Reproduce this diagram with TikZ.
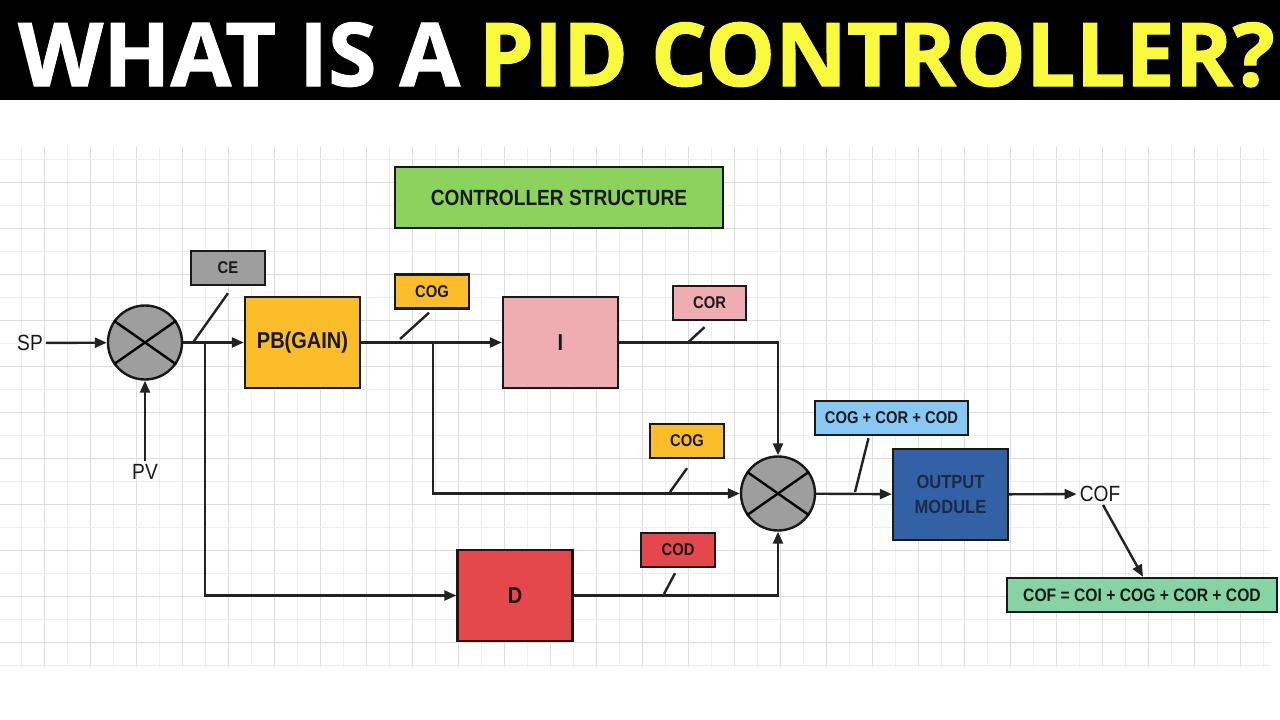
\documentclass[tikz,border=0pt]{standalone}
\usepackage{fontspec}
\setmainfont{Liberation Sans}
\newfontfamily\narrowfont[FakeStretch=0.87]{Liberation Sans}
\newfontfamily\titlefont[FakeBold=1.2]{Open Sans}
\usetikzlibrary{arrows.meta}
\definecolor{jgray}{HTML}{9E9E9E}
\definecolor{gainorange}{HTML}{FCBD2B}
\definecolor{intpink}{HTML}{EFADB1}
\definecolor{dervred}{HTML}{E5484C}
\definecolor{titlegreen}{HTML}{8CD35D}
\definecolor{sumblue}{HTML}{87C9F3}
\definecolor{outblue}{HTML}{3261A6}
\definecolor{mint}{HTML}{86D3A3}
\definecolor{hlyellow}{HTML}{FAFA3C}
\definecolor{gridmin}{HTML}{EEEEEE}
\definecolor{gridmaj}{HTML}{DDDDDD}
\definecolor{wirecol}{HTML}{222222}
\definecolor{navytext}{HTML}{1C2A44}

\begin{document}
\begin{tikzpicture}[x=1pt, y=-1pt, >={Triangle[length=12pt, width=10pt]}, line width=2.4pt,
  box/.style={draw=black!90, fill=#1, line width=2.4pt, text=black!90, inner sep=0pt,
    minimum width=115pt, minimum height=91pt, font=\narrowfont\bfseries\fontsize{23}{26}\selectfont},
  tag/.style={draw=black!90, fill=#1, line width=2.4pt, text=black!90, inner sep=0pt,
    minimum width=74pt, minimum height=34pt, font=\narrowfont\bfseries\fontsize{17}{20}\selectfont},
  sumjn/.style={circle, draw=black!90, fill=jgray, line width=2.4pt, minimum size=74pt, inner sep=0pt},
  sig/.style={text=black!90, inner sep=2pt, font=\narrowfont\fontsize{22}{24}\selectfont},
  wire/.style={draw=wirecol, line width=2.4pt}]

\useasboundingbox (0,0) rectangle (1280,720);
\fill[white] (0,0) rectangle (1280,720);

% Title bar
\fill[black] (0,0) rectangle (1280,100);
\node[anchor=base west, inner sep=0pt, text=white, font=\titlefont\bfseries\fontsize{88}{90}\selectfont]
  (heading) at (17,86) {WHAT IS A};
\node[anchor=base east, inner sep=0pt, text=hlyellow, font=\titlefont\bfseries\fontsize{88}{90}\selectfont]
  (headingB) at (1276,86) {PID CONTROLLER?};

% Grid paper
\foreach \i in {0,...,54} {
  \ifodd\i \def\gc{gridmaj}\else\def\gc{gridmin}\fi
  \draw[\gc, line width=1pt] (21.5+23*\i,147) -- (21.5+23*\i,667);
}
\foreach \j in {0,...,22} {
  \ifodd\j \def\gc{gridmaj}\else\def\gc{gridmin}\fi
  \draw[\gc, line width=1pt] (0,159+23*\j) -- (1270,159+23*\j);
}

% Heading box
\node[draw=black!90, fill=titlegreen, line width=2.4pt, minimum width=328pt, minimum height=61pt,
      text=black!90, font=\narrowfont\bfseries\fontsize{22}{24}\selectfont]
  (ctrl) at (559,197.5) {CONTROLLER STRUCTURE};

% Inputs and first junction
\node[sig] (sp) at (30,343) {SP};
\node[sig] (pv) at (145,472) {PV};
\node[sumjn] (sum1) at (145,342.5) {};
\draw (sum1.145) -- (sum1.-35);
\draw (sum1.215) -- (sum1.35);

% Blocks
\node[box=gainorange] (pb) at (302.5,342.5) {PB(GAIN)};
\node[box=intpink] (ibox) at (560.5,342.5) {I};
\node[box=dervred] (dbox) at (515,595.5) {D};
\node[box=outblue, align=center, text=navytext, font=\narrowfont\bfseries\fontsize{19}{25}\selectfont]
  (outmod) at (950.5,494.5) {OUTPUT\\MODULE};

% Second junction
\node[sumjn] (sum2) at (778,493.5) {};
\draw (sum2.145) -- (sum2.-35);
\draw (sum2.215) -- (sum2.35);

% Signal tags
\node[tag=jgray] (ce) at (228,268) {CE};
\node[tag=gainorange] (cog1) at (432,291.5) {COG};
\node[tag=intpink, minimum width=73pt] (cor) at (709.5,303) {COR};
\node[tag=gainorange] (cog2) at (687,441) {COG};
\node[tag=dervred] (cod) at (678,550) {COD};
\node[tag=sumblue, minimum width=153pt] (sumtxt) at (891.5,418) {COG + COR + COD};
\node[tag=mint, minimum width=270pt, font=\narrowfont\bfseries\fontsize{18}{20}\selectfont]
  (formula) at (1142,595) {COF = COI + COG + COR + COD};

% Output label
\node[sig] (cof) at (1100,494) {COF};

% Branch points
\coordinate (br1) at (205,342.5);
\coordinate (br2) at (433,342.5);

% Connectors
\draw[wire, ->] (sp) -- (sum1);
\draw[wire, ->] (pv) -- (sum1);
\draw[wire, ->] (sum1) -- (pb);
\draw[wire, ->] (br1) |- (dbox);
\draw[wire, ->] (pb) -- (ibox);
\draw[wire, ->] (br2) |- (sum2);
\draw[wire, ->] (ibox) -| (sum2);
\draw[wire, ->] (dbox) -| (sum2);
\draw[wire, ->] (sum2) -- (outmod);
\draw[wire, ->] (outmod) -- (cof);
\draw[wire, ->] ([xshift=3pt]cof.south) -- ([xshift=1pt]formula.north);

% Tag leaders
\coordinate (ceTick) at (193,342.5);
\coordinate (cogTickA) at (400,339);
\coordinate (corTick) at (688,342.5);
\coordinate (cogTickB) at (670,492);
\coordinate (codTick) at (664,594);
\coordinate (sumTick) at (855,492);
\draw[wire] (ceTick) -- ([yshift=-7pt]ce.south);
\draw[wire] (cogTickA) -- ([xshift=-3pt, yshift=-3pt]cog1.south);
\draw[wire] (corTick) -- ([xshift=-5pt, yshift=-6pt]cor.south);
\draw[wire] (cogTickB) -- ([yshift=-9pt]cog2.south);
\draw[wire] (codTick) -- ([xshift=-3pt, yshift=-5pt]cod.south);
\draw[wire] (sumTick) -- ([xshift=-23pt, yshift=-2pt]sumtxt.south);

\end{tikzpicture}
\end{document}
